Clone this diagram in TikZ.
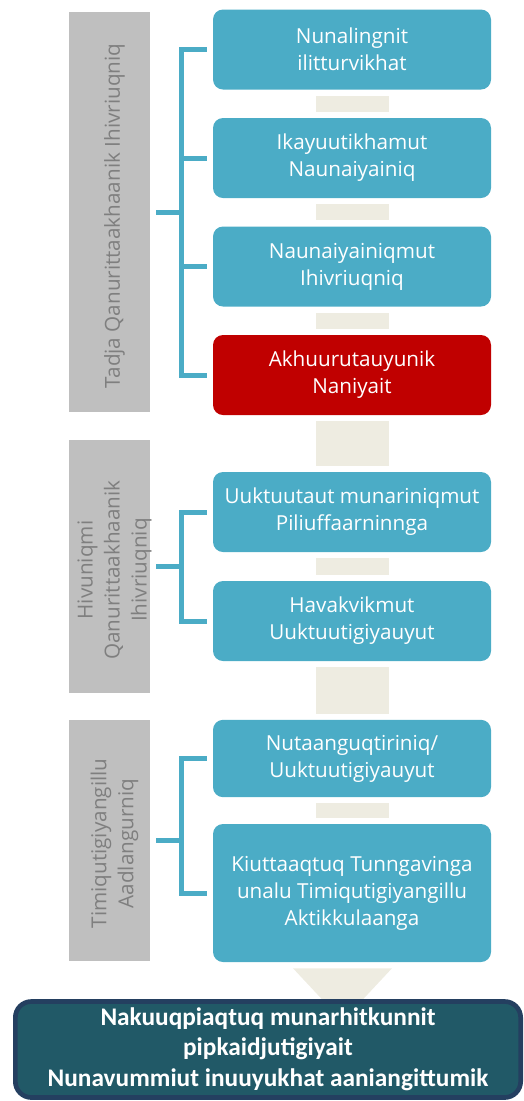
\documentclass[tikz,border=0pt]{standalone}
\usepackage{fontspec}
\setmainfont{Carlito}
\newfontfamily\boxfont{Open Sans}
\usepackage{tikz}
\usetikzlibrary{calc}

\definecolor{tealbox}{HTML}{4BACC6}
\definecolor{redbox}{HTML}{C00000}
\definecolor{greybox}{HTML}{BFBFBF}
\definecolor{greytext}{HTML}{7F7F7F}
\definecolor{beigebar}{HTML}{EEECE1}
\definecolor{darkfill}{HTML}{215967}
\definecolor{darkline}{HTML}{243F60}

\begin{document}
\begin{tikzpicture}[x=0.75pt,y=-0.75pt]
  \tikzstyle{tbox} = [rectangle, rounded corners=7.5pt, fill=tealbox, text=white, minimum width=208.5pt, minimum height=60pt, align=center, font=\boxfont\fontsize{15.5}{20.25}\selectfont, inner sep=0pt]
  \tikzstyle{gbox} = [rectangle, fill=greybox, minimum width=60.75pt, inner sep=0pt]
  \tikzstyle{gtext} = [rotate=90, text=greytext, align=center, font=\boxfont\fontsize{15.5}{20.25}\selectfont]
  \tikzstyle{bar} = [draw=beigebar, line width=54.75pt, shorten <=4.5pt, shorten >=4.5pt]
  \tikzstyle{brace} = [draw=tealbox, line width=3.75pt]
  \useasboundingbox (0,0) rectangle (524,1101);

  \node[tbox] (b1) at (352,49.5) {Nunalingnit\\ilitturvikhat};
  \node[tbox] (b2) at (352,158) {Ikayuutikhamut\\Naunaiyainiq};
  \node[tbox] (b3) at (352,266.5) {Naunaiyainiqmut\\Ihivriuqniq};
  \node[tbox, fill=redbox] (b4) at (352,375) {Akhuurutauyunik\\Naniyait};
  \node[tbox] (b5) at (352,512) {Uuktuutaut munariniqmut\\Piliuffaarninnga};
  \node[tbox] (b6) at (352,621) {Havakvikmut\\Uuktuutigiyauyut};
  \node[tbox, minimum height=58pt] (b7) at (352,758.5) {Nutaanguqtiriniq/\\Uuktuutigiyauyut};
  \node[tbox, minimum height=103.5pt] (b8) at (352,893) {Kiuttaaqtuq Tunngavinga\\unalu Timiqutigiyangillu\\Aktikkulaanga};

  \node[gbox, minimum height=300pt] (g1) at (109.5,212) {};
  \node[gtext] (t1) at ($(g1.center)+(5,4)$) {Tadja Qanurittaakhaanik Ihivriuqniq};
  \node[gbox, minimum height=189.75pt] (g2) at (109.5,566.5) {};
  \node[gtext] (t2) at ($(g2.center)+(5,3.5)$) {Hivuniqmi\\Qanurittaakhaanik\\Ihivriuqniq};
  \node[gbox, minimum height=180.75pt] (g3) at (109.5,840.5) {};
  \node[gtext] (t3) at ($(g3.center)+(5,3)$) {Timiqutigiyangillu\\Aadlangurniq};

  % bars between the steps
  \draw[bar] (b1.south) -- (b2.north);
  \draw[bar] (b2.south) -- (b3.north);
  \draw[bar] (b3.south) -- (b4.north);
  \draw[bar] (b4.south) -- (b5.north);
  \draw[bar] (b5.south) -- (b6.north);
  \draw[bar] (b6.south) -- (b7.north);
  \draw[bar] (b7.south) -- (b8.north);
  \fill[beigebar] ($(b8.south)+(-59,6)$) -- ($(b8.south)+(40,6)$) -- ($(b8.south)+(-9.5,59)$) -- cycle;

  % brackets
  \coordinate (k1) at (181,212);
  \coordinate (k2) at (181,567);
  \coordinate (k3) at (181,842);
  \draw[brace] ([xshift=-4.5pt]b1.west) -- (b1.west -| k1) -- (b4.west -| k1) -- ([xshift=-4.5pt]b4.west);
  \draw[brace] ([xshift=-4.5pt]b2.west) -- (b2.west -| k1);
  \draw[brace] ([xshift=-4.5pt]b3.west) -- (b3.west -| k1);
  \draw[brace] ([xshift=4.5pt]g1.east) -- (g1.east -| k1);
  \draw[brace] ([xshift=-4.5pt]b5.west) -- (b5.west -| k2) -- (b6.west -| k2) -- ([xshift=-4.5pt]b6.west);
  \draw[brace] ([xshift=4.5pt]g2.east) -- (g2.east -| k2);
  \draw[brace] ([xshift=-4.5pt]b7.west) -- (b7.west -| k3) -- (b8.west -| k3) -- ([xshift=-4.5pt]b8.west);
  \draw[brace] ([xshift=4.5pt]g3.east) -- (g3.east -| k3);

  \node[rectangle, rounded corners=12pt, fill=darkfill, draw=darkline, line width=3.5pt, minimum width=379pt, minimum height=72pt, text=white, align=center, font=\bfseries\fontsize{19}{22.5}\selectfont] (fin) at (268,1049.5) {Nakuuqpiaqtuq munarhitkunnit\\pipkaidjutigiyait\\[0.5pt]Nunavummiut inuuyukhat aaniangittumik};
\end{tikzpicture}
\end{document}
